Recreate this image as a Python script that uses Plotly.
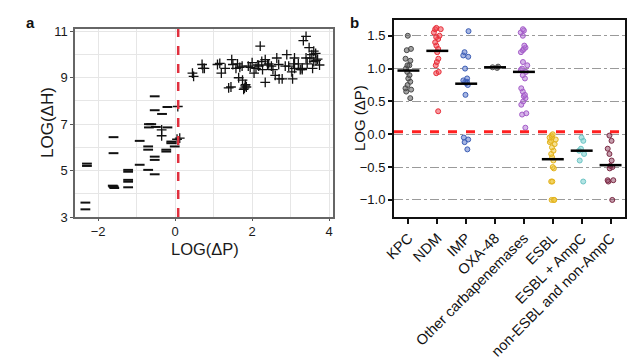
import plotly.graph_objects as go

# ---------------- Panel a data ----------------
neg_x = [-2.29, -2.29, -2.33, -2.33, -1.6, -1.6, -1.62, -1.6, -1.58, -1.6,
         -1.22, -1.22, -1.22, -1.22, -1.22, -0.92, -0.92, -0.7, -0.7, -0.7,
         -0.53, -0.53, -0.53, -0.53, -0.53, -0.68, -0.68, -0.5, -0.34, -0.2,
         -0.2, -0.23, -0.23, -0.1, -0.1, -0.01, -0.62]
neg_y = [5.3, 5.2, 3.62, 3.33, 6.44, 5.75, 4.35, 4.3, 4.25, 4.32,
         5.03, 4.95, 4.6, 4.52, 4.28, 6.28, 5.25, 6.04, 5.9, 5.03,
         8.2, 7.6, 5.6, 5.46, 4.84, 7.0, 6.86, 6.88, 7.44, 7.74,
         6.86, 5.9, 5.82, 6.25, 6.18, 6.04, 7.0]
pos_x = [-0.35, -0.35, 0.07, 0.12, 0.05, 0.45, 0.48, 0.7, 0.72, 0.76,
         1.1, 1.16, 1.2, 1.3, 1.47, 1.5, 1.58, 1.65, 1.39, 1.45,
         1.75, 1.78, 1.82, 1.85, 1.8, 1.83, 1.74, 1.9, 2.0, 2.05,
         2.1, 2.21, 2.17, 2.34, 2.4, 2.43, 2.34, 2.27, 2.54, 2.64,
         2.69, 2.6, 2.7, 2.78, 2.9, 2.86, 2.95, 3.08, 3.03, 3.1,
         3.1, 3.05, 3.2, 3.3, 3.4, 3.43, 3.33, 3.4, 3.48, 3.5,
         3.55, 3.6, 3.65, 3.6, 3.66, 3.7, 3.75, 3.57, 3.25, 3.3,
         1.62, 1.68, 1.95, 2.15, 2.5, 2.25]
pos_y = [6.75, 6.5, 7.76, 6.4, 6.35, 9.2, 9.06, 9.57, 9.4, 9.4,
         9.57, 9.62, 9.2, 9.4, 9.78, 9.57, 9.4, 9.0, 8.56, 8.6,
         8.9, 8.5, 8.65, 8.6, 8.55, 8.7, 9.5, 9.5, 9.65, 9.2,
         9.4, 10.36, 9.5, 9.78, 9.55, 9.6, 8.8, 9.35, 9.35, 9.85,
         9.57, 9.1, 8.95, 8.95, 10.0, 9.5, 9.5, 9.6, 9.25, 9.4,
         9.85, 8.95, 9.6, 9.4, 9.85, 9.6, 10.6, 10.78, 10.3, 9.85,
         10.0, 10.15, 10.05, 9.7, 9.75, 9.8, 9.55, 9.4, 9.35, 9.35,
         9.6, 9.45, 9.45, 9.55, 9.5, 9.7]
cutoff_a = 0.08

# ---------------- Panel b data ----------------
categories = ["KPC", "NDM", "IMP", "OXA-48", "Other carbapenemases", "ESBL",
              "ESBL + AmpC", "non-ESBL and non-AmpC"]
kpc = [1.5, 1.3, 1.28, 1.15, 1.12, 1.05, 1.05, 1.0, 0.95, 0.9, 0.85, 0.8,
       0.75, 0.7, 0.68, 0.65, 0.55]
ndm = [1.62, 1.6, 1.6, 1.55, 1.5, 1.48, 1.45, 1.4, 1.35, 1.3, 1.25, 1.15,
       1.1, 1.05, 0.95, 0.93, 0.35]
imp = [1.57, 1.25, 1.2, 1.18, 1.0, 0.85, 0.82, 0.8, 0.8, 0.78, 0.75, 0.6,
       -0.05, -0.08, -0.12, -0.23]
oxa = [1.02, 1.03, 1.01]
other = [1.6, 1.58, 1.55, 1.5, 1.35, 1.32, 1.3, 1.28, 1.25, 1.1, 1.05, 1.0,
         0.98, 0.95, 0.9, 0.85, 0.7, 0.65, 0.6, 0.58, 0.55, 0.5, 0.45, 0.32,
         0.3, 0.1]
esbl = [0.0, -0.02, -0.05, -0.05, -0.08, -0.1, -0.12, -0.15, -0.2, -0.25,
        -0.3, -0.35, -0.4, -0.5, -0.52, -0.72, -0.72, -1.0, -1.0, -1.0]
esbl_ampc = [-0.05, -0.1, -0.22, -0.25, -0.3, -0.4, -0.72]
non_esbl = [-0.02, -0.1, -0.22, -0.3, -0.4, -0.48, -0.5, -0.52, -0.7, -0.7,
            -0.72, -1.0]
group_means = [0.97, 1.27, 0.77, 1.02, 0.95, -0.38, -0.25, -0.47]
cutoff_b = 0.04

series_b = [kpc, ndm, imp, oxa, other, esbl, esbl_ampc, non_esbl]
colors_b = ["#4a4a4a", "#e8303a", "#3d5fb5", "#555555", "#a45cc8",
            "#e2b21c", "#6cc4c4", "#7a2a44"]
fills_b = ["rgba(90,90,90,0.55)", "rgba(240,70,80,0.55)", "rgba(80,110,200,0.5)",
           "rgba(90,90,90,0.5)", "rgba(180,120,215,0.55)", "rgba(240,200,60,0.55)",
           "rgba(130,210,210,0.6)", "rgba(140,60,90,0.5)"]

fig = go.Figure()

# Panel a traces
fig.add_trace(go.Scatter(x=neg_x, y=neg_y, mode="markers", xaxis="x", yaxis="y",
                         marker=dict(symbol="line-ew", size=7, color="#111",
                                     line=dict(width=2, color="#111")),
                         showlegend=False))
fig.add_trace(go.Scatter(x=pos_x, y=pos_y, mode="markers", xaxis="x", yaxis="y",
                         marker=dict(symbol="cross-thin", size=7, color="#111",
                                     line=dict(width=1.3, color="#111")),
                         showlegend=False))

# Panel b traces
for cat, vals, col, fc in zip(categories, series_b, colors_b, fills_b):
    fig.add_trace(go.Box(x=[cat] * len(vals), y=vals, xaxis="x2", yaxis="y2",
                         boxpoints="all", jitter=0.6, pointpos=0, width=0.45,
                         fillcolor="rgba(0,0,0,0)",
                         line=dict(color="rgba(0,0,0,0)", width=0),
                         marker=dict(symbol="circle", size=5, color=fc,
                                     line=dict(width=1, color=col)),
                         showlegend=False))

shapes = [
    dict(type="line", xref="x", yref="y domain", x0=cutoff_a, x1=cutoff_a, y0=0, y1=1,
         line=dict(color="#e0303e", width=2.5, dash="dash")),
    dict(type="line", xref="x2 domain", yref="y2", x0=0, x1=1, y0=cutoff_b, y1=cutoff_b,
         line=dict(color="#ff2020", width=3, dash="dash")),
]
for i, m in enumerate(group_means):
    shapes.append(dict(type="line", xref="x2", yref="y2", x0=i - 0.38, x1=i + 0.38,
                       y0=m, y1=m, line=dict(color="black", width=2.5)))

font_main = "Liberation Sans, Arial, sans-serif"
W, H = 628, 360


def label(text, px, py, size, angle=0, color="#1a1a1a"):
    return dict(text=text, x=px / W, y=1 - py / H, xref="paper", yref="paper",
                xanchor="center", yanchor="middle", textangle=angle,
                showarrow=False, font=dict(size=size, color=color))


fig.update_layout(
    template="none",
    width=W, height=H,
    margin=dict(l=0, r=0, t=0, b=0),
    paper_bgcolor="white", plot_bgcolor="white",
    font=dict(family=font_main, color="#1a1a1a", size=13),
    boxmode="overlay",
    shapes=shapes,
    xaxis=dict(domain=[75 / W, 333 / W], range=[-2.6, 4.1],
               tickvals=[-2, 0, 2, 4], ticks="outside", ticklen=2, tickcolor="#555",
               showline=True, linecolor="#666", linewidth=1.5, mirror=True,
               showgrid=True, gridcolor="#e6e6e6", gridwidth=1,
               minor=dict(dtick=1, showgrid=True, gridcolor="#e6e6e6", ticks=""),
               zeroline=False, anchor="y", automargin=False,
               tickfont=dict(size=13, color="#1a1a1a")),
    yaxis=dict(domain=[1 - 217 / H, 1 - 29 / H], range=[3, 11.1],
               tickvals=[3, 5, 7, 9, 11], ticks="outside", ticklen=3, tickcolor="#555",
               showline=True, linecolor="#666", linewidth=1.5, mirror=True,
               showgrid=True, gridcolor="#e6e6e6", gridwidth=1,
               minor=dict(dtick=1, showgrid=True, gridcolor="#e6e6e6", ticks=""),
               zeroline=False, anchor="x", automargin=False,
               tickfont=dict(size=13, color="#1a1a1a")),
    xaxis2=dict(domain=[394 / W, 625 / W], range=[-0.5, 7.5],
                type="category", categoryorder="array", categoryarray=categories,
                tickangle=-45, ticks="outside", ticklen=5, tickcolor="#111", tickwidth=1.5,
                showline=True, linecolor="#111", linewidth=2, mirror=True,
                showgrid=False, zeroline=False, anchor="y2", automargin=False,
                tickfont=dict(size=14.5, color="#111")),
    yaxis2=dict(domain=[1 - 217 / H, 1 - 20 / H], range=[-1.26, 1.74],
                tickvals=[-1.0, -0.5, 0.0, 0.5, 1.0, 1.5], tickformat=".1f",
                ticks="outside", ticklen=4, tickcolor="#111", tickwidth=1.5,
                showline=True, linecolor="#111", linewidth=2, mirror=True,
                showgrid=True, gridcolor="#9a9a9a", gridwidth=1, griddash="dashdot",
                zeroline=False, anchor="x2", automargin=False,
                tickfont=dict(size=13, color="#111")),
    annotations=[
        label("<b>a</b>", 30, 22, 15, color="#111"),
        label("<b>b</b>", 354, 22, 15, color="#111"),
        label("LOG(ΔP)", 205, 249, 16.5),
        label("LOG(ΔH)", 47, 123, 17, angle=-90),
        label("LOG (ΔP)", 360, 118, 15, angle=-90, color="#111"),
    ],
)

fig.write_html("out.html", config={"displayModeBar": False},
               post_script="document.body.style.margin='0px';"
                           "document.body.style.overflow='hidden';")
